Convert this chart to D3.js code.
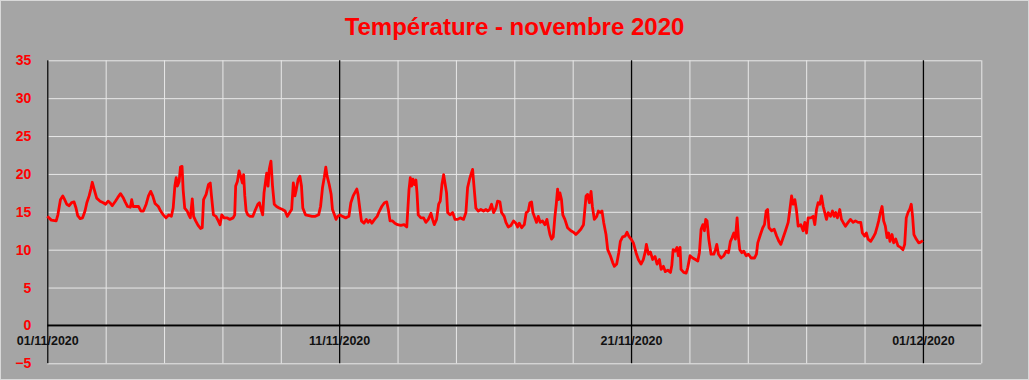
<!DOCTYPE html>
<html>
<head>
<meta charset="utf-8">
<script src="https://cdn.jsdelivr.net/npm/d3@7"></script>
<style>
  body { margin: 0; background: #A5A5A5; }
  svg { display: block; }
</style>
</head>
<body>
<svg id="chart"></svg>
<script>
// Data: hours since 01/11/2020 00:00 and temperature (°C).
var hours = [
  0, 3.3, 7.3, 8.7, 10.8, 12.7, 14, 16, 18, 20, 22, 23.6, 25, 27, 29, 31, 32.5, 34.4, 35.8, 37,
  38.5, 40.6, 43.4, 46, 48, 50, 51.5, 53.4, 56, 58, 60.2, 62.3, 64, 66, 68.3, 69.4, 70.5, 72.4, 75, 77,
  79, 81.3, 83.2, 85, 86.7, 88.6, 91.3, 93.2, 95.4, 97.6, 100, 102, 103.5, 104.9, 106, 107, 108.4, 109.5, 110.8, 111.7,
  113, 115, 116.3, 117.6, 119.2, 120.3, 122, 124, 126, 127.4, 128.5, 130.6, 132.5, 134, 135, 136.6, 138.7, 140.6, 142, 143.5,
  145.4, 147.6, 150.1, 152.8, 154.1, 154.9, 156.3, 157.7, 159, 160.4, 161.4, 162.4, 163.5, 164.9, 166.8, 169, 171.2, 173.1, 174.4, 175.8,
  177.1, 178.2, 179.3, 180.4, 181.5, 182.5, 183.9, 185.2, 186.6, 188.5, 190.6, 193.4, 195.5, 197.4, 199.3, 200.9, 202.3, 203.6, 204.7, 206.3,
  207.7, 209, 210.1, 212.3, 215, 217.7, 220.4, 223.1, 224.7, 226.3, 227.7, 229, 230.1, 231.8, 233.4, 234.5, 236.1, 237.4, 238.8, 240.7,
  242.6, 245.3, 248, 249.6, 251.5, 252.8, 254.5, 255.5, 256.9, 258.3, 260.4, 262.3, 263.7, 265.3, 266.9, 269.1, 271.2, 273.1, 275, 277.2,
  279.1, 280.4, 281.8, 283.9, 285.8, 288, 290.7, 293.4, 295.6, 297.4, 298.5, 299.6, 300.7, 301.8, 303.1, 304, 305, 307.2, 309.4, 311.3,
  313.3, 315.5, 316.8, 318.2, 320.1, 321.8, 323.1, 324.5, 325.9, 327, 328.3, 329.2, 331.1, 333.3, 335.2, 337.4, 339.6, 342.3, 344.2, 345.6,
  347.2, 348.3, 349.7, 351.1, 352.4, 354.4, 356.5, 358.7, 360.7, 362, 363.7, 365.3, 367, 368.9, 370.2, 372.2, 373.5, 375.7, 377.1, 379,
  381.2, 383.4, 385.3, 386.7, 388.1, 390, 392.2, 393.8, 395.5, 396.8, 398.2, 399.3, 400.9, 402.3, 403.7, 405.3, 407.2, 409.2, 410.8, 411.9,
  413.3, 414.6, 416, 417.4, 418.5, 419.6, 420.4, 421.5, 422.8, 423.9, 425.6, 427.8, 430.5, 432.7, 434.6, 436.5, 438.7, 440.9, 443, 444.3,
  445.7, 447.1, 448.2, 449.8, 451.8, 453.1, 454.8, 456.1, 457.5, 459.4, 460.8, 463, 464.9, 466.3, 468.2, 469.9, 471.2, 473.1, 475.1, 476.7,
  478.1, 480, 481.9, 484.1, 486, 488.2, 490.1, 491.8, 492.6, 494.3, 495.9, 497.8, 499.7, 501.4, 503.3, 504.7, 506.6, 508.2, 510.2, 512.4,
  513.5, 514.6, 516.2, 517.8, 518.9, 520.3, 521.1, 523.3, 525.3, 526.6, 528.5, 530.7, 532.9, 534.9, 536.2, 537.6, 539, 540.3, 541.4, 542.5,
  543.9, 545.8, 548, 549.4, 550.5, 551.9, 554, 556.2, 558.2, 560.1, 561.7, 563.1, 564.5, 565.8, 567.2, 568.3, 569.4, 571.1, 572.7, 574.6,
  576.5, 578.7, 581.5, 583.1, 584.2, 586.4, 588.3, 589.7, 591.1, 592.3, 593.4, 595.6, 597.7, 599.7, 601.6, 603.2, 605.1, 607, 609.2, 610.6,
  612, 613.3, 614.7, 616.1, 617.4, 619.6, 621.5, 622.9, 624.3, 625.6, 627.8, 629.7, 631.1, 632.5, 633.8, 635.2, 636.6, 638, 639.3, 640.7,
  642.1, 644, 645.6, 647, 648.3, 649.7, 651.6, 653, 654.4, 656.3, 658.5, 660.4, 662.6, 664.5, 666.7, 668.9, 670.2, 672.1, 673.5, 674.9,
  677.1, 679, 680.9, 682.5, 683.6, 685, 686.4, 687.7, 689.1, 690.5, 691.8, 692.9, 694.6, 695.9, 697.6, 699.5, 701.7, 703.6, 705, 706.3,
  707.7, 709.1, 710.4, 711.5, 712.6, 714.5, 716.5, 718.1, 720
];
var temps = [
  14.4, 13.9, 13.8, 14.6, 16.6, 17.1, 16.7, 16.0, 15.8, 16.2, 16.3, 15.5, 14.5, 14.1, 14.2, 15.1, 16.2, 17.1, 18.0, 18.9,
  18.0, 16.8, 16.4, 16.2, 16.0, 16.4, 16.2, 15.8, 16.4, 16.9, 17.4, 16.9, 16.3, 15.7, 15.6, 16.6, 15.7, 15.7, 15.7, 15.1,
  15.1, 16.0, 17.1, 17.7, 17.1, 16.1, 15.7, 15.1, 14.6, 14.2, 14.6, 14.4, 15.5, 18.4, 19.5, 18.4, 19.0, 20.9, 21.0, 17.9,
  15.5, 15.1, 14.6, 14.2, 16.7, 14.4, 13.8, 13.2, 12.8, 12.9, 16.6, 17.3, 18.6, 18.8, 17.1, 14.6, 14.4, 13.8, 13.3, 14.6,
  14.2, 14.2, 14.0, 14.2, 14.6, 18.4, 19.0, 20.4, 19.7, 18.8, 19.9, 17.1, 15.1, 14.6, 14.4, 14.4, 15.3, 16.0, 16.2, 15.3,
  14.6, 17.5, 18.8, 20.1, 18.4, 20.6, 21.7, 18.4, 16.0, 15.7, 15.5, 15.3, 15.1, 14.4, 14.9, 15.3, 18.8, 17.1, 17.9, 19.3,
  19.7, 18.4, 15.5, 14.6, 14.5, 14.4, 14.4, 14.6, 15.7, 18.2, 19.5, 20.9, 19.7, 18.6, 17.3, 15.3, 14.6, 14.0, 14.4, 14.6,
  14.4, 14.2, 14.4, 16.2, 17.1, 17.5, 18.0, 17.3, 15.5, 13.8, 13.5, 14.0, 13.6, 13.9, 13.5, 14.0, 14.4, 15.1, 15.7, 16.2,
  16.3, 15.3, 13.8, 13.8, 13.5, 13.3, 13.2, 13.3, 13.0, 17.9, 19.5, 18.4, 19.3, 18.6, 19.2, 17.5, 14.6, 14.2, 14.2, 13.6,
  14.0, 14.8, 14.0, 13.3, 14.0, 16.0, 16.4, 18.6, 19.9, 18.8, 17.5, 14.9, 14.6, 14.9, 14.0, 14.0, 14.2, 14.0, 14.9, 18.2,
  19.3, 19.9, 20.6, 17.9, 15.5, 15.1, 15.3, 15.1, 15.3, 15.1, 15.3, 16.0, 14.9, 15.5, 16.4, 16.3, 14.9, 14.4, 13.6, 13.0,
  13.2, 13.8, 13.5, 13.0, 13.5, 12.9, 13.3, 14.9, 15.1, 16.2, 16.3, 14.9, 14.2, 13.6, 14.4, 13.6, 13.8, 13.3, 14.0, 13.1,
  12.0, 11.4, 11.7, 14.4, 16.0, 18.0, 16.6, 17.5, 16.6, 14.6, 14.0, 12.9, 12.5, 12.3, 12.0, 12.3, 12.7, 13.3, 17.1, 17.3,
  16.2, 17.7, 15.7, 14.0, 14.4, 15.1, 14.9, 15.1, 13.6, 12.0, 10.0, 9.2, 8.3, 7.8, 8.1, 9.6, 11.1, 11.7, 11.8, 12.3,
  11.8, 11.4, 10.9, 9.6, 8.7, 8.1, 8.7, 9.8, 10.7, 9.4, 9.7, 8.7, 9.1, 8.1, 8.7, 7.4, 7.8, 7.1, 7.3, 7.0,
  7.9, 10.0, 9.8, 10.3, 9.2, 10.3, 7.4, 7.0, 6.9, 7.6, 9.2, 8.9, 8.7, 8.5, 9.6, 12.7, 13.3, 12.5, 14.0, 13.8,
  11.4, 9.4, 9.4, 10.0, 10.7, 9.4, 8.9, 9.2, 9.8, 9.6, 11.1, 11.6, 12.2, 11.4, 14.2, 11.6, 10.0, 9.6, 9.8, 9.2,
  9.4, 8.9, 8.9, 9.4, 10.9, 12.0, 12.9, 13.3, 15.1, 15.3, 12.9, 12.5, 12.7, 11.8, 11.1, 10.7, 11.6, 12.5, 13.6, 15.3,
  17.1, 16.0, 16.6, 15.1, 13.1, 13.3, 12.5, 13.6, 12.2, 14.2, 14.2, 14.4, 13.3, 15.3, 16.2, 16.0, 17.1, 15.7, 14.9, 14.0,
  14.9, 14.4, 15.1, 14.4, 14.9, 14.2, 15.3, 14.0, 13.6, 13.1, 13.6, 14.0, 13.6, 13.8, 13.6, 13.6, 12.2, 11.8, 12.2, 11.4,
  11.1, 11.6, 12.2, 13.1, 13.8, 14.9, 15.7, 13.8, 13.1, 11.6, 12.2, 11.1, 12.0, 10.9, 11.4, 10.5, 10.3, 10.0, 10.7, 14.2,
  14.9, 15.3, 16.0, 14.4, 12.0, 11.4, 10.9, 11.0, 11.2
];
var yTicks = [-5, 0, 5, 10, 15, 20, 25, 30, 35];
var labelDates = ["2020-11-01", "2020-11-11", "2020-11-21", "2020-12-01"];
var titleText = "Température - novembre 2020";

var W = 1029, H = 380;
var plotLeft = 47.3, plotTop = 60.3, plotW = 934, plotH = 303;

var parseDay = d3.timeParse("%Y-%m-%d");
var xStart = parseDay("2020-11-01");
var xEnd = parseDay("2020-12-03");
var majorDates = labelDates.map(parseDay);

var svg = d3.select("#chart").attr("width", W).attr("height", H);

svg.append("rect")
    .attr("x", 0.5).attr("y", 0.5)
    .attr("width", W - 1).attr("height", H - 1)
    .attr("fill", "#A5A5A5")
    .attr("stroke", "#D9D9D9");

svg.append("text")
    .attr("x", W / 2).attr("y", 35)
    .attr("text-anchor", "middle")
    .attr("font-family", "'Liberation Sans', Arial, sans-serif")
    .attr("font-weight", "bold")
    .attr("font-size", 24)
    .attr("fill", "#FF0000")
    .text(titleText);

var x = d3.scaleTime().domain([xStart, xEnd]).range([0, plotW]);
var y = d3.scaleLinear().domain([-5, 35]).range([plotH, 0]);

var g = svg.append("g").attr("transform", "translate(" + plotLeft + "," + plotTop + ")");

// horizontal grid
var yGrid = g.append("g")
    .call(d3.axisLeft(y).tickValues(yTicks).tickSize(-plotW).tickFormat(""));
yGrid.select(".domain").remove();
yGrid.selectAll("line").attr("stroke", "#E8E8E8").attr("stroke-width", 1);

// vertical grid, every 2 days
var gridDates = d3.timeDay.range(xStart, d3.timeDay.offset(xEnd, 1), 2);
var xGrid = g.append("g")
    .attr("transform", "translate(0," + plotH + ")")
    .call(d3.axisBottom(x).tickValues(gridDates).tickSize(-plotH).tickFormat(""));
xGrid.select(".domain").remove();
xGrid.selectAll("line").attr("stroke", "#E8E8E8").attr("stroke-width", 1);

// y labels
var yAxis = g.append("g")
    .call(d3.axisLeft(y).tickValues(yTicks).tickSize(0).tickPadding(16));
yAxis.select(".domain").remove();
yAxis.selectAll("text")
    .attr("fill", "#FF0000")
    .attr("font-family", "'Liberation Sans', Arial, sans-serif")
    .attr("font-weight", "bold")
    .attr("font-size", 14);

// date labels
var xAxis = g.append("g")
    .attr("transform", "translate(0," + y(0) + ")")
    .call(d3.axisBottom(x).tickValues(majorDates).tickSize(0).tickPadding(11)
        .tickFormat(d3.timeFormat("%d/%m/%Y")));
xAxis.select(".domain").remove();
xAxis.selectAll("text")
    .attr("fill", "#111111")
    .attr("font-family", "'Liberation Sans', Arial, sans-serif")
    .attr("font-weight", "bold")
    .attr("font-size", 12.5);

// black vertical lines every 10 days
var xMajor = g.append("g")
    .attr("transform", "translate(0," + plotH + ")")
    .call(d3.axisBottom(x).tickValues(majorDates).tickSize(-plotH).tickFormat(""));
xMajor.select(".domain").remove();
xMajor.selectAll("line").attr("stroke", "#000000").attr("stroke-width", 1.3);

// zero line
g.append("line")
    .attr("x1", 0).attr("x2", plotW)
    .attr("y1", y(0)).attr("y2", y(0))
    .attr("stroke", "#000000")
    .attr("stroke-width", 2);

var points = hours.map(function(h, i) {
    return { date: new Date(xStart.getTime() + h * 3600e3), temp: temps[i] };
});

var line = d3.line()
    .x(function(d) { return x(d.date); })
    .y(function(d) { return y(d.temp); });

g.append("path")
    .datum(points)
    .attr("fill", "none")
    .attr("stroke", "#FF0000")
    .attr("stroke-width", 2.8)
    .attr("stroke-linejoin", "round")
    .attr("d", line);
</script>
</body>
</html>
